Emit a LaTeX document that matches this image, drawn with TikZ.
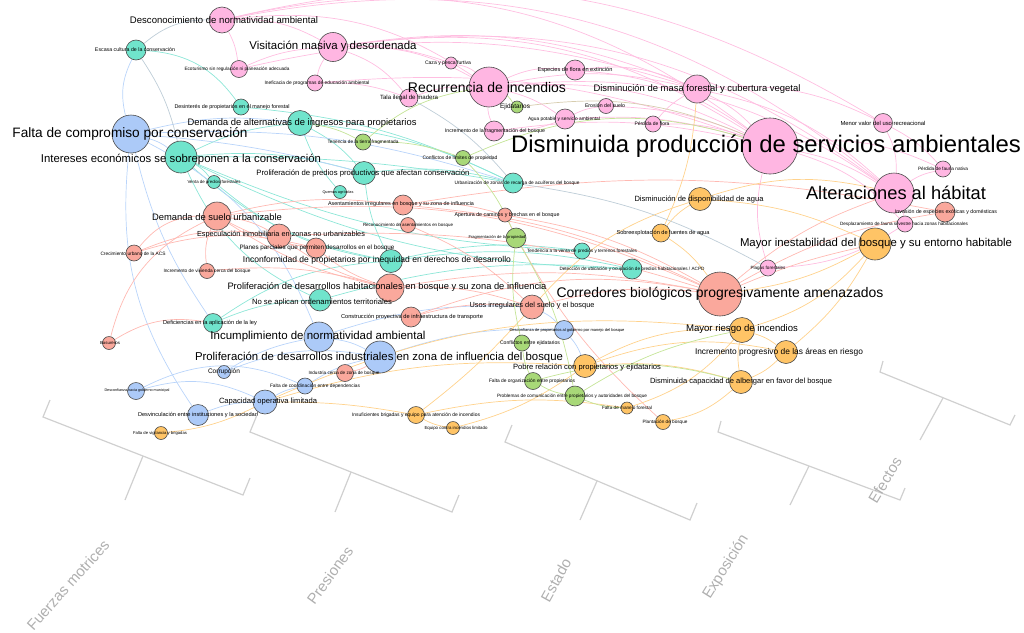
\documentclass[tikz,border=0pt]{standalone}
\usepackage{fontspec}
\setmainfont{Liberation Sans}
\usepackage{graphicx}
\definecolor{cpink}{RGB}{255,182,226}
\definecolor{cteal}{RGB}{112,228,204}
\definecolor{csal}{RGB}{250,168,156}
\definecolor{cblue}{RGB}{172,202,248}
\definecolor{corange}{RGB}{255,196,102}
\definecolor{cgreen}{RGB}{168,216,120}
\definecolor{epink}{RGB}{255,190,225}
\definecolor{eteal}{RGB}{140,230,215}
\definecolor{esal}{RGB}{255,185,178}
\definecolor{eblue}{RGB}{185,212,250}
\definecolor{eorange}{RGB}{255,210,140}
\definecolor{egreen}{RGB}{196,228,150}
\definecolor{egray}{RGB}{190,205,215}
\definecolor{etan}{RGB}{215,205,175}
\definecolor{axisgray}{RGB}{208,208,208}
\definecolor{axistext}{RGB}{175,175,175}
\newcommand\RB[2]{\resizebox{#1pt}{!}{#2}}
\pgfdeclarelayer{bg}
\pgfsetlayers{bg,main}
\begin{document}
\begin{tikzpicture}[x=1pt,y=-1pt,
  nd/.style={circle,draw=black!70,line width=0.6pt,inner sep=0pt},
  lb/.style={inner sep=0pt,text=black},
  el/.style={line width=0.7pt},
  ep/.style={el,draw=epink}, et/.style={el,draw=eteal}, es/.style={el,draw=esal},
  eb/.style={el,draw=eblue}, eo/.style={el,draw=eorange}, eg/.style={el,draw=egreen},
  egr/.style={el,draw=egray}, etn/.style={el,draw=etan},
  ax/.style={draw=axisgray,line width=1.2pt},
  axl/.style={text=axistext,font=\fontsize{15}{16}\selectfont,inner sep=0pt}]
\useasboundingbox (0,0) rectangle (1024,632);
% ---------------- nodes ----------------
% pink
\node[nd,fill=cpink,minimum size=26] (dnorm) at (222,20) {};
\node[nd,fill=cpink,minimum size=29] (visit) at (333,47) {};
\node[nd,fill=cpink,minimum size=17] (p3) at (239,69) {};
\node[nd,fill=cpink,minimum size=16] (p4) at (315,83) {};
\node[nd,fill=cpink,minimum size=18] (p5) at (409,98) {};
\node[nd,fill=cpink,minimum size=12] (p6) at (451,63) {};
\node[nd,fill=cpink,minimum size=40] (recur) at (489,87) {};
\node[nd,fill=cpink,minimum size=20] (p8) at (494,131) {};
\node[nd,fill=cpink,minimum size=20] (p9) at (575,70) {};
\node[nd,fill=cpink,minimum size=20] (p10) at (565,119) {};
\node[nd,fill=cpink,minimum size=15] (p11) at (606,106) {};
\node[nd,fill=cpink,minimum size=28] (dmasa) at (697,89) {};
\node[nd,fill=cpink,minimum size=16] (p13) at (653,124) {};
\node[nd,fill=cpink,minimum size=19] (p14) at (883,123) {};
\node[nd,fill=cpink,minimum size=56] (dserv) at (770,146) {};
\node[nd,fill=cpink,minimum size=40] (alter) at (894,193) {};
\node[nd,fill=cpink,minimum size=16] (p17) at (943,169) {};
\node[nd,fill=cpink,minimum size=16] (p18) at (905,224) {};
\node[nd,fill=cpink,minimum size=16] (p19) at (768,268) {};
% salmon
\node[nd,fill=csal,minimum size=20] (s20) at (945,212) {};
\node[nd,fill=csal,minimum size=28] (dsuelo) at (217,216) {};
\node[nd,fill=csal,minimum size=16] (s22) at (134,253) {};
\node[nd,fill=csal,minimum size=15] (s23) at (207,271) {};
\node[nd,fill=csal,minimum size=24] (espec) at (279,236) {};
\node[nd,fill=csal,minimum size=20] (planes) at (316,248) {};
\node[nd,fill=csal,minimum size=20] (asent) at (403,205) {};
\node[nd,fill=csal,minimum size=15] (s27) at (408,225) {};
\node[nd,fill=csal,minimum size=14] (s28) at (505,215) {};
\node[nd,fill=csal,minimum size=28] (prolhab) at (390,288) {};
\node[nd,fill=csal,minimum size=20] (cons) at (411,317) {};
\node[nd,fill=csal,minimum size=24] (usos) at (532,307) {};
\node[nd,fill=csal,minimum size=17] (s32) at (345,373) {};
\node[nd,fill=csal,minimum size=13] (s33) at (109,343) {};
\node[nd,fill=csal,minimum size=44] (corr) at (720,294) {};
% teal
\node[nd,fill=cteal,minimum size=20] (t36) at (136,50) {};
\node[nd,fill=cteal,minimum size=16] (t37) at (241,107) {};
\node[nd,fill=cteal,minimum size=25] (dalt) at (300,123) {};
\node[nd,fill=cteal,minimum size=32] (inter) at (181,157) {};
\node[nd,fill=cteal,minimum size=13] (t40) at (214,182) {};
\node[nd,fill=cteal,minimum size=23] (prolp) at (364,173) {};
\node[nd,fill=cteal,minimum size=13] (t42) at (340,192) {};
\node[nd,fill=cteal,minimum size=20] (t43) at (513,183) {};
\node[nd,fill=cteal,minimum size=23] (inconf) at (391,261) {};
\node[nd,fill=cteal,minimum size=22] (noapl) at (320,300) {};
\node[nd,fill=cteal,minimum size=16] (t46) at (582,251) {};
\node[nd,fill=cteal,minimum size=20] (t47) at (632,269) {};
\node[nd,fill=cteal,minimum size=19] (t48) at (213,323) {};
% blue
\node[nd,fill=cblue,minimum size=38] (falta) at (131,134) {};
\node[nd,fill=cblue,minimum size=30] (incum) at (319,337) {};
\node[nd,fill=cblue,minimum size=32] (prolind) at (380,357) {};
\node[nd,fill=cblue,minimum size=13] (b53) at (224,372) {};
\node[nd,fill=cblue,minimum size=17] (b54) at (136,391) {};
\node[nd,fill=cblue,minimum size=21] (b55) at (198,415) {};
\node[nd,fill=cblue,minimum size=24] (capop) at (265,402) {};
\node[nd,fill=cblue,minimum size=16] (b57) at (305,386) {};
\node[nd,fill=cblue,minimum size=19] (b58) at (564,330) {};
% orange
\node[nd,fill=corange,minimum size=13] (o59) at (161,433) {};
\node[nd,fill=corange,minimum size=17] (o60) at (416,415) {};
\node[nd,fill=corange,minimum size=13] (o61) at (453,428) {};
\node[nd,fill=corange,minimum size=23] (pobre) at (585,366) {};
\node[nd,fill=corange,minimum size=12] (o63) at (627,408) {};
\node[nd,fill=corange,minimum size=15] (o64) at (663,422) {};
\node[nd,fill=corange,minimum size=25] (mriesgo) at (742,330) {};
\node[nd,fill=corange,minimum size=23] (incre) at (786,352) {};
\node[nd,fill=corange,minimum size=23] (dcap) at (741,382) {};
\node[nd,fill=corange,minimum size=23] (dagua) at (700,199) {};
\node[nd,fill=corange,minimum size=18] (sobre) at (661,233) {};
\node[nd,fill=corange,minimum size=32] (minest) at (875,244) {};
% green
\node[nd,fill=cgreen,minimum size=16] (g71) at (363,142) {};
\node[nd,fill=cgreen,minimum size=15] (g72) at (463,158) {};
\node[nd,fill=cgreen,minimum size=12] (g74) at (517,107) {};
\node[nd,fill=cgreen,minimum size=20] (frag) at (516,238) {};
\node[nd,fill=cgreen,minimum size=16] (g75) at (522,343) {};
\node[nd,fill=cgreen,minimum size=17] (g76) at (533,381) {};
\node[nd,fill=cgreen,minimum size=20] (g77) at (575,396) {};
% ---------------- edges ----------------
\begin{pgfonlayer}{bg}
% pink
\draw[ep] (dnorm) to[bend left=25] (dserv);
\draw[ep] (dnorm) to[bend left=25] (alter);
\draw[ep] (dnorm) to[bend left=15] (visit);
\draw[ep] (dnorm) to[bend left=10] (p3);
\draw[ep] (dnorm) to[bend left=20] (recur);
\draw[ep] (dnorm) to[bend left=22] (p14);
\draw[ep] (visit) to[bend left=20] (dserv);
\draw[ep] (visit) to[bend left=22] (alter);
\draw[ep] (visit) to[bend left=15] (dmasa);
\draw[ep] (visit) to[bend right=10] (p3);
\draw[ep] (visit) to[bend right=10] (p4);
\draw[ep] (visit) to[bend left=15] (p5);
\draw[ep] (visit) to[bend left=15] (recur);
\draw[ep] (visit) to[bend left=10] (p6);
\draw[ep] (p4) to[bend left=10] (p5);
\draw[ep] (p6) to[bend left=15] (recur);
\draw[ep] (recur) to[bend left=15] (dserv);
\draw[ep] (recur) to[bend left=12] (dmasa);
\draw[ep] (recur) to[bend left=15] (p9);
\draw[ep] (recur) to[bend right=10] (p8);
\draw[ep] (recur) to[bend left=10] (p10);
\draw[ep] (recur) to[bend left=20] (alter);
\draw[ep] (p9) to[bend left=15] (dmasa);
\draw[ep] (p9) to[bend left=15] (dserv);
\draw[ep] (dmasa) to[bend left=10] (dserv);
\draw[ep] (dmasa) to[bend left=15] (alter);
\draw[ep] (dmasa) to[bend left=15] (p14);
\draw[ep] (dmasa) to[bend right=10] (p13);
\draw[ep] (p10) to[bend left=10] (dserv);
\draw[ep] (p10) to[bend left=10] (p11);
\draw[ep] (p11) to[bend left=10] (dserv);
\draw[ep] (p13) to[bend left=10] (dserv);
\draw[ep] (p8) to[bend left=10] (dserv);
\draw[ep] (p8) to[bend right=10] (p10);
\draw[ep] (dserv) to[bend left=10] (alter);
\draw[ep] (dserv) to[bend left=15] (p17);
\draw[ep] (dserv) to[bend left=15] (p18);
\draw[ep] (dserv) to[bend right=15] (p19);
\draw[ep] (alter) to[bend left=10] (p17);
\draw[ep] (alter) to[bend left=10] (p18);
\draw[ep] (p14) to[bend left=15] (alter);
\draw[ep] (p14) to[bend left=10] (p17);
\draw[ep] (p18) to[bend left=15] (p19);
\draw[ep] (p5) to[bend left=10] (recur);
\draw[ep] (p3) to[bend left=15] (dmasa);
\draw[ep] (p4) to[bend left=12] (dserv);
% teal
\draw[et] (inter) to[bend left=10] (prolp);
\draw[et] (inter) to[bend right=15] (inconf);
\draw[et] (inter) to[bend right=10] (t46);
\draw[et] (inter) to[bend right=12] (t47);
\draw[et] (inter) to[bend left=10] (t40);
\draw[et] (inter) to[bend left=10] (dalt);
\draw[et] (inter) to[bend right=20] (noapl);
\draw[et] (inter) to[bend left=5] (t43);
\draw[et] (t36) to[bend left=25] (t37);
\draw[et] (dalt) to[bend left=10] (t43);
\draw[et] (dalt) to[bend left=10] (prolp);
\draw[et] (dalt) to[bend right=10] (t42);
\draw[et] (prolp) to[bend left=10] (t43);
\draw[et] (prolp) to[bend right=10] (inconf);
\draw[et] (t48) to[bend left=10] (noapl);
\draw[et] (t48) to[bend left=15] (inconf);
\draw[et] (noapl) to[bend left=10] (t47);
\draw[et] (inconf) to[bend left=10] (t46);
\draw[et] (inconf) to[bend left=10] (t47);
\draw[et] (t37) to[bend left=10] (t43);
\draw[et] (t40) to[bend right=15] (inconf);
% blue
\draw[eb] (falta) to[bend left=10] (inter);
\draw[eb] (falta) to[bend left=20] (t36);
\draw[eb] (falta) to[bend left=10] (dalt);
\draw[eb] (falta) to[bend left=5] (prolp);
\draw[eb] (falta) to[bend left=20] (incum);
\draw[eb] (falta) to[bend right=20] (b55);
\draw[eb] (falta) to[bend right=10] (t48);
\draw[eb] (falta) to[bend left=10] (t43);
\draw[eb] (incum) to[bend left=10] (prolind);
\draw[eb] (incum) to[bend right=10] (b53);
\draw[eb] (incum) to[bend left=10] (usos);
\draw[eb] (b54) to[bend left=20] (capop);
\draw[eb] (b54) to[bend left=25] (b57);
\draw[eb] (b55) to[bend left=10] (capop);
\draw[eb] (capop) to[bend left=10] (b57);
\draw[eb] (b57) to[bend left=10] (prolind);
\draw[eb] (b58) to[bend right=10] (usos);
\draw[eb] (b58) to[bend left=10] (pobre);
\draw[eb] (b53) to[bend left=15] (prolind);
\draw[eb] (prolind) to[bend left=10] (b58);
% salmon
\draw[es] (dsuelo) to[bend right=25] (s22);
\draw[es] (dsuelo) to[bend right=15] (s23);
\draw[es] (dsuelo) to[bend left=10] (espec);
\draw[es] (dsuelo) to[bend left=10] (asent);
\draw[es] (dsuelo) to[bend right=10] (prolhab);
\draw[es] (dsuelo) to[bend right=10] (planes);
\draw[es] (s22) to[bend left=15] (espec);
\draw[es] (s22) to[bend left=15] (planes);
\draw[es] (s23) to[bend left=10] (prolhab);
\draw[es] (espec) to[bend right=10] (prolhab);
\draw[es] (planes) to[bend right=10] (prolhab);
\draw[es] (asent) to[bend left=10] (s28);
\draw[es] (asent) to[bend left=10] (corr);
\draw[es] (asent) to[bend left=10] (s20);
\draw[es] (prolhab) to[bend left=10] (corr);
\draw[es] (prolhab) to[bend left=10] (usos);
\draw[es] (usos) to[bend left=10] (corr);
\draw[es] (cons) to[bend left=15] (corr);
\draw[es] (cons) to[bend left=10] (usos);
\draw[es] (s33) to[bend left=20] (t48);
\draw[es] (s33) to[bend left=25] (dsuelo);
\draw[es] (s32) to[bend right=10] (prolind);
\draw[es] (corr) to[bend left=10] (alter);
\draw[es] (corr) to[bend left=10] (s20);
\draw[es] (corr) to[bend left=5] (minest);
\draw[es] (s27) to[bend left=10] (usos);
\draw[es] (espec) to[bend left=10] (corr);
\draw[es] (s28) to[bend left=10] (corr);
\draw[es] (s28) to[bend right=10] (o64);
\draw[es] (dsuelo) to[bend left=15] (corr);
% orange
\draw[eo] (o59) to[bend right=10] (capop);
\draw[eo] (capop) to[bend left=5] (o60);
\draw[eo] (capop) to[bend left=10] (pobre);
\draw[eo] (capop) to[bend left=15] (mriesgo);
\draw[eo] (o60) to[bend right=10] (o61);
\draw[eo] (o60) to[bend right=5] (usos);
\draw[eo] (o61) to[bend right=10] (pobre);
\draw[eo] (pobre) to[bend left=15] (mriesgo);
\draw[eo] (pobre) to[bend left=10] (dcap);
\draw[eo] (pobre) to[bend left=15] (incre);
\draw[eo] (o63) to[bend right=15] (mriesgo);
\draw[eo] (o64) to[bend right=15] (dcap);
\draw[eo] (mriesgo) to[bend left=10] (incre);
\draw[eo] (dcap) to[bend right=10] (incre);
\draw[eo] (mriesgo) to[bend right=15] (minest);
\draw[eo] (dagua) to[bend left=10] (minest);
\draw[eo] (dagua) to[bend right=10] (sobre);
\draw[eo] (sobre) to[bend left=10] (corr);
\draw[eo] (dagua) to[bend left=15] (alter);
\draw[eo] (usos) to[bend left=15] (dagua);
\draw[eo] (sobre) to[bend right=10] (dmasa);
\draw[eo] (minest) to[bend left=10] (corr);
\draw[eo] (minest) to[bend left=10] (incre);
\draw[eo] (mriesgo) to[bend right=10] (dcap);
\draw[eo] (o60) to[bend left=10] (o63);
% green
\draw[eg] (g71) to[bend left=15] (recur);
\draw[eg] (g71) to[bend left=10] (g72);
\draw[eg] (g72) to[bend left=10] (frag);
\draw[eg] (frag) to[bend left=10] (g77);
\draw[eg] (frag) to[bend right=10] (g75);
\draw[eg] (g75) to[bend right=10] (g76);
\draw[eg] (g76) to[bend right=10] (g77);
\draw[eg] (g77) to[bend left=10] (mriesgo);
\draw[eg] (g77) to[bend right=10] (o63);
\draw[eg] (g74) to[bend right=10] (recur);
\draw[eg] (g71) to[bend right=10] (dalt);
\draw[eg] (g72) to[bend left=20] (dserv);
\draw[eg] (g76) to[bend left=15] (dcap);
% gray / tan
\draw[etn] (g74) to[bend left=15] (dserv);
\draw[egr] (p5) to[bend left=10] (t43);
\draw[egr] (dnorm) to[bend right=20] (t36);
\draw[egr] (t36) to[bend left=10] (inter);
\draw[egr] (t43) to[bend left=10] (p19);
\end{pgfonlayer}
% ---------------- labels ----------------
\node[lb] (ldserv) at (766,146) {\RB{510}{Disminuida producción de servicios ambientales}};
\node[lb] (lalter) at (896,193) {\RB{180}{Alteraciones al hábitat}};
\node[lb] (lfalta) at (130,134) {\RB{235}{Falta de compromiso por conservación}};
\node[lb] (linter) at (181,159) {\RB{280}{Intereses económicos se sobreponen a la conservación}};
\node[lb] (lrecur) at (487,87) {\RB{158}{Recurrencia de incendios}};
\node[lb] (lcorr) at (720,294) {\RB{327}{Corredores biológicos progresivamente amenazados}};
\node[lb] (lminest) at (876,244) {\RB{272}{Mayor inestabilidad del bosque y su entorno habitable}};
\node[lb] (lvisit) at (333,46) {\RB{167}{Visitación masiva y desordenada}};
\node[lb] (ldnorm) at (224,20) {\RB{188}{Desconocimiento de normatividad ambiental}};
\node[lb] (ldalt) at (302,123) {\RB{229}{Demanda de alternativas de ingresos para propietarios}};
\node[lb] (ldmasa) at (697,89) {\RB{207}{Disminución de masa forestal y cubertura vegetal}};
\node[lb] (ldsuelo) at (217,217) {\RB{130}{Demanda de suelo urbanizable}};
\node[lb] (lprolhab) at (387,287) {\RB{319}{Proliferación de desarrollos habitacionales en bosque y su zona de influencia}};
\node[lb] (lincum) at (318,337) {\RB{215}{Incumplimiento de normatividad ambiental}};
\node[lb] (lprolind) at (379,357) {\RB{368}{Proliferación de desarrollos industriales en zona de influencia del bosque}};
\node[lb] (linconf) at (377,260) {\RB{268}{Inconformidad de propietarios por inequidad en derechos de desarrollo}};
\node[lb] (lmriesgo) at (742,329) {\RB{112}{Mayor riesgo de incendios}};
\node[lb] (lincre) at (779,352) {\RB{168}{Incremento progresivo de las áreas en riesgo}};
\node[lb] (ldcap) at (741,382) {\RB{182}{Disminuida capacidad de albergar en favor del bosque}};
\node[lb] (lpobre) at (587,367) {\RB{148}{Pobre relación con propietarios y ejidatarios}};
\node[lb] (lcapop) at (268,402) {\RB{98}{Capacidad operativa limitada}};
\node[lb] (lnoapl) at (322,303) {\RB{140}{No se aplican ordenamientos territoriales}};
\node[lb] (lprolp) at (363,173) {\RB{213}{Proliferación de predios productivos que afectan conservación}};
\node[lb] (lusos) at (532,306) {\RB{125}{Usos irregulares del suelo y el bosque}};
\node[lb] (lespec) at (281,235) {\RB{168}{Especulación inmobiliaria en zonas no urbanizables}};
\node[lb] (lsobre) at (663,233) {\RB{93}{Sobreexplotación de fuentes de agua}};
\node[lb] (ldagua) at (699,199) {\RB{129}{Disminución de disponibilidad de agua}};
\node[lb] (lfrag) at (497,237) {\RB{57}{Fragmentación de la propiedad}};
\node[lb] (lasent) at (401,204) {\RB{146}{Asentamientos irregulares en bosque y su zona de influencia}};
\node[lb] (lplanes) at (317,248) {\RB{155}{Planes parciales que permiten desarrollos en el bosque}};
\node[lb] (lcons) at (412,317) {\RB{142}{Construcción proyectiva de infraestructura de transporte}};
\node[lb] (lt47) at (632,269) {\RB{145}{Detección de ubicación y ocupación de predios habitacionales / ACPD}};
% small labels
\node[lb] (lt36) at (135,50) {\RB{80}{Escasa cultura de la conservación}};
\node[lb] (lp3) at (237,69) {\RB{105}{Ecoturismo sin regulación ni planeación adecuada}};
\node[lb] (lp4) at (317,83) {\RB{105}{Ineficacia de programas de educación ambiental}};
\node[lb] (lp5) at (409,98) {\RB{58}{Tala ilegal de madera}};
\node[lb] (lp6) at (448,63) {\RB{46}{Caza y pesca furtiva}};
\node[lb] (lt37) at (232,107) {\RB{115}{Desinterés de propietarios en el manejo forestal}};
\node[lb] (lp8) at (495,131) {\RB{100}{Incremento de la fragmentación del bosque}};
\node[lb] (lp9) at (575,70) {\RB{75}{Especies de flora en extinción}};
\node[lb] (lp10) at (564,119) {\RB{72}{Agua potable y servicio ambiental}};
\node[lb] (lp11) at (605,106) {\RB{40}{Erosión del suelo}};
\node[lb] (lp13) at (652,124) {\RB{35}{Pérdida de flora}};
\node[lb] (lp14) at (883,123) {\RB{85}{Menor valor del uso recreacional}};
\node[lb] (lp17) at (943,169) {\RB{50}{Pérdida de fauna nativa}};
\node[lb] (lp18) at (904,224) {\RB{128}{Desplazamiento de fauna silvestre hacia zonas habitacionales}};
\node[lb] (ls20) at (946,212) {\RB{102}{Invasión de especies exóticas y domésticas}};
\node[lb] (lp19) at (768,268) {\RB{35}{Plagas forestales}};
\node[lb] (lt40) at (214,182) {\RB{53}{Venta de predios forestales}};
\node[lb] (lt42) at (338,192) {\RB{31}{Quemas agrícolas}};
\node[lb] (lt43) at (517,183) {\RB{125}{Urbanización de zonas de recarga de acuíferos del bosque}};
\node[lb] (lt46) at (582,251) {\RB{110}{Tendencia a la venta de predios y terrenos forestales}};
\node[lb] (lt48) at (210,323) {\RB{94}{Deficiencias en la aplicación de la ley}};
\node[lb] (ls22) at (133,254) {\RB{65}{Crecimiento urbano de la ACS}};
\node[lb] (ls23) at (207,271) {\RB{87}{Incremento de vivienda cerca del bosque}};
\node[lb] (ls27) at (408,225) {\RB{90}{Reconocimiento de asentamientos en bosque}};
\node[lb] (ls28) at (507,215) {\RB{105}{Apertura de caminos y brechas en el bosque}};
\node[lb] (ls32) at (344,373) {\RB{71}{Industria cerca de zona de bosque}};
\node[lb] (ls33) at (110,343) {\RB{20}{Basureros}};
\node[lb] (lb53) at (224,372) {\RB{32}{Corrupción}};
\node[lb] (lb54) at (137,391) {\RB{65}{Desconfianza hacia gobierno municipal}};
\node[lb] (lb55) at (198,415) {\RB{120}{Desvinculación entre instituciones y la sociedad}};
\node[lb] (lb57) at (315,386) {\RB{90}{Falta de coordinación entre dependencias}};
\node[lb] (lb58) at (567,330) {\RB{115}{Desconfianza de propietarios al gobierno por manejo del bosque}};
\node[lb] (lo59) at (160,433) {\RB{54}{Falta de vigilancia y brigadas}};
\node[lb] (lo60) at (416,415) {\RB{128}{Insuficientes brigadas y equipo para atención de incendios}};
\node[lb] (lo61) at (456,428) {\RB{63}{Equipo contra incendios limitado}};
\node[lb] (lo63) at (627,408) {\RB{50}{Falta de manejo forestal}};
\node[lb] (lo64) at (665,422) {\RB{45}{Plantación de bosque}};
\node[lb] (lg71) at (363,142) {\RB{71}{Tenencia de la tierra fragmentada}};
\node[lb] (lg72) at (460,158) {\RB{75}{Conflictos de límites de propiedad}};
\node[lb] (lg74) at (515,107) {\RB{30}{Ejidatarios}};
\node[lb] (lg75) at (530,343) {\RB{60}{Conflictos entre ejidatarios}};
\node[lb] (lg76) at (532,381) {\RB{86}{Falta de organización entre propietarios}};
\node[lb] (lg77) at (572,396) {\RB{150}{Problemas de comunicación entre propietarios y autoridades del bosque}};
% ---------------- axis brackets ----------------
\draw[ax] (50,400) -- (43,417) -- (243,495) -- (250,478);
\draw[ax] (143,456) -- (125,500);
\node[axl,rotate=48] (afm) at (68,585) {Fuerzas motrices};
\draw[ax] (257,415) -- (250,432) -- (452,512) -- (459,495);
\draw[ax] (351,472) -- (335,512);
\node[axl,rotate=54] (apr) at (330,575) {Presiones};
\draw[ax] (512,425) -- (505,442) -- (690,520) -- (697,503);
\draw[ax] (597,481) -- (580,520);
\node[axl,rotate=61] (aes) at (556,580) {Estado};
\draw[ax] (721,421) -- (718,432) -- (900,500) -- (905,488);
\draw[ax] (809,466) -- (790,505);
\node[axl,rotate=58] (aex) at (726,567) {Exposición};
\draw[ax] (883,361) -- (880,372) -- (1010,425) -- (1015,415);
\draw[ax] (943,398) -- (920,440);
\node[axl,rotate=59] (aef) at (885,480) {Efectos};
\end{tikzpicture}
\end{document}
